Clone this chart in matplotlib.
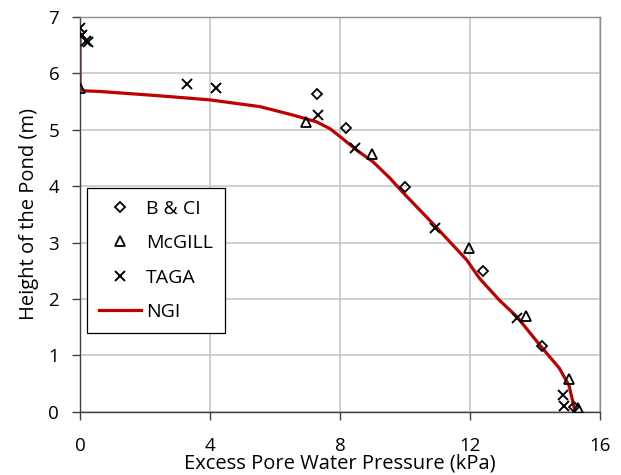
import matplotlib
matplotlib.use("Agg")
import matplotlib.pyplot as plt

# readings (x = excess pore pressure kPa, y = height m)
bci_x = [7.30, 8.18, 10.0, 12.39, 14.2, 15.2]
bci_y = [5.63, 5.04, 3.98, 2.50, 1.16, 0.09]

mcgill_x = [0.0, 6.95, 8.97, 11.97, 13.71, 15.05, 15.32]
mcgill_y = [5.74, 5.14, 4.57, 2.90, 1.70, 0.58, 0.07]

taga_x = [0.0, 0.06, 0.2, 0.26, 3.28, 4.2, 7.33, 8.46, 10.92, 13.44, 14.85, 14.89]
taga_y = [6.80, 6.68, 6.58, 6.55, 5.82, 5.74, 5.26, 4.68, 3.25, 1.67, 0.30, 0.10]

ngi_x = [0.0, 0.0, 0.15, 0.6, 2.5, 4.0, 5.54, 6.56, 7.28, 7.69, 8.0, 8.51, 9.02,
         9.54, 9.9, 10.9, 11.9, 12.3, 12.9, 13.45, 14.15, 14.75, 15.05, 15.22]
ngi_y = [6.66, 5.72, 5.69, 5.68, 5.60, 5.53, 5.41, 5.26, 5.14, 5.02, 4.88, 4.64, 4.43,
         4.14, 3.91, 3.31, 2.69, 2.36, 1.98, 1.68, 1.18, 0.77, 0.46, 0.03]

plt.rcParams['font.family'] = ['Open Sans', 'DejaVu Sans']

fig = plt.figure(figsize=(6.21, 4.75), dpi=100)
ax = fig.add_axes([0.1288, 0.1333, 0.8374, 0.8309])

ax.plot(ngi_x, ngi_y, color='#C00000', lw=2.3, label='NGI', zorder=2,
        solid_joinstyle='round')
ax.plot(bci_x, bci_y, ls='none', marker='D', ms=5.5, mfc='none', mec='black',
        mew=1.3, label='B & CI', zorder=3)
ax.plot(mcgill_x, mcgill_y, ls='none', marker='^', ms=7.5, mfc='none', mec='black',
        mew=1.3, label='McGILL', zorder=3)
ax.plot(taga_x, taga_y, ls='none', marker='x', ms=7.5, mec='black',
        mew=1.4, label='TAGA', zorder=3)

ax.set_xlim(0, 16)
ax.set_ylim(0, 7)
ax.set_xticks([0, 4, 8, 12, 16])
ax.set_yticks(range(8))
ax.grid(True, color='#C8C8C8', lw=1.2)
ax.set_axisbelow(True)

for s in ['left', 'bottom']:
    ax.spines[s].set_color('#404040')
    ax.spines[s].set_linewidth(1.0)
for s in ['top', 'right']:
    ax.spines[s].set_color('#8C8C8C')
    ax.spines[s].set_linewidth(1.0)

ax.tick_params(axis='both', direction='out', length=6, width=1.0,
               color='#404040', labelsize=13.5)
ax.tick_params(axis='x', pad=12)
ax.tick_params(axis='y', pad=9)

ax.set_xlabel('Excess Pore Water Pressure (kPa)', fontsize=14.5, labelpad=-1)
ax.set_ylabel('Height of the Pond (m)', fontsize=14.5, labelpad=7)

h, l = ax.get_legend_handles_labels()
order = [1, 2, 3, 0]
leg = ax.legend([h[i] for i in order], [l[i] for i in order],
                loc='upper left', bbox_to_anchor=(0.0135, 0.567),
                fontsize=14, frameon=True, fancybox=False, edgecolor='black',
                framealpha=1, handlelength=2.2, borderpad=0.6, labelspacing=0.85,
                handletextpad=0.25, borderaxespad=0)
leg.get_frame().set_linewidth(0.9)

fig.savefig('out.png', dpi=100)
